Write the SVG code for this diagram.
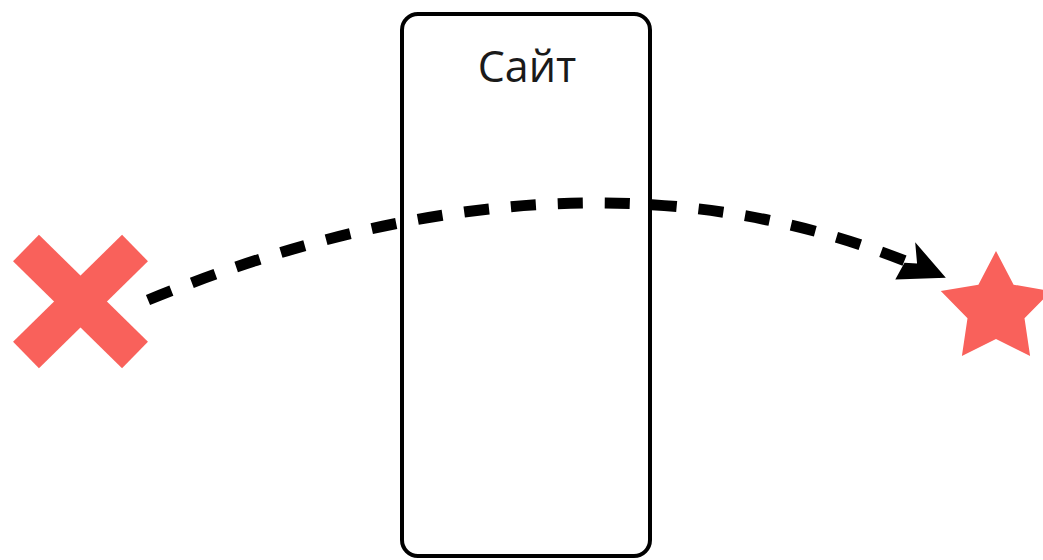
<svg xmlns="http://www.w3.org/2000/svg" width="1043" height="560" viewBox="0 0 1043 560">
  <style>
    .shape { fill: #f9615b; }
    .box { fill: #ffffff; stroke: #000000; stroke-width: 4; }
    .label { font-family: "Open Sans", "Liberation Sans", sans-serif; font-size: 43px; fill: #1a1a1a; text-anchor: middle; }
    .flow { fill: none; stroke: #000000; stroke-width: 11; stroke-dasharray: 25 22; }
  </style>
  <defs>
    <marker id="arrow" markerUnits="userSpaceOnUse" orient="auto" markerWidth="60" markerHeight="60" viewBox="-30 -30 60 60" refX="0" refY="0" overflow="visible">
      <path d="M28,0 L-14,-21 L-4,-2 L-16,2 L-18,21 Z" fill="#000000"/>
    </marker>
  </defs>
  <rect width="1043" height="560" fill="#ffffff"/>
  <g id="site">
    <rect class="box" x="402" y="14" width="248" height="542" rx="16" ry="16"/>
    <text class="label" x="527" y="82">Сайт</text>
  </g>
  <g id="start">
    <path d="M26,248 L135,355" stroke="#f9615b" stroke-width="37" fill="none"/>
    <path d="M135,248 L26,355" stroke="#f9615b" stroke-width="37" fill="none"/>
  </g>
  <g id="goal">
    <polygon class="shape" points="996,251 1013.6,284.7 1051.2,291.1 1024.5,318.3 1030.1,355.9 996,339 961.9,355.9 967.5,318.3 940.8,291.1 978.4,284.7"/>
  </g>
  <g id="connectors">
    <path class="flow" d="M148,300 Q578,124 920,267" marker-end="url(#arrow)"/>
  </g>
</svg>
